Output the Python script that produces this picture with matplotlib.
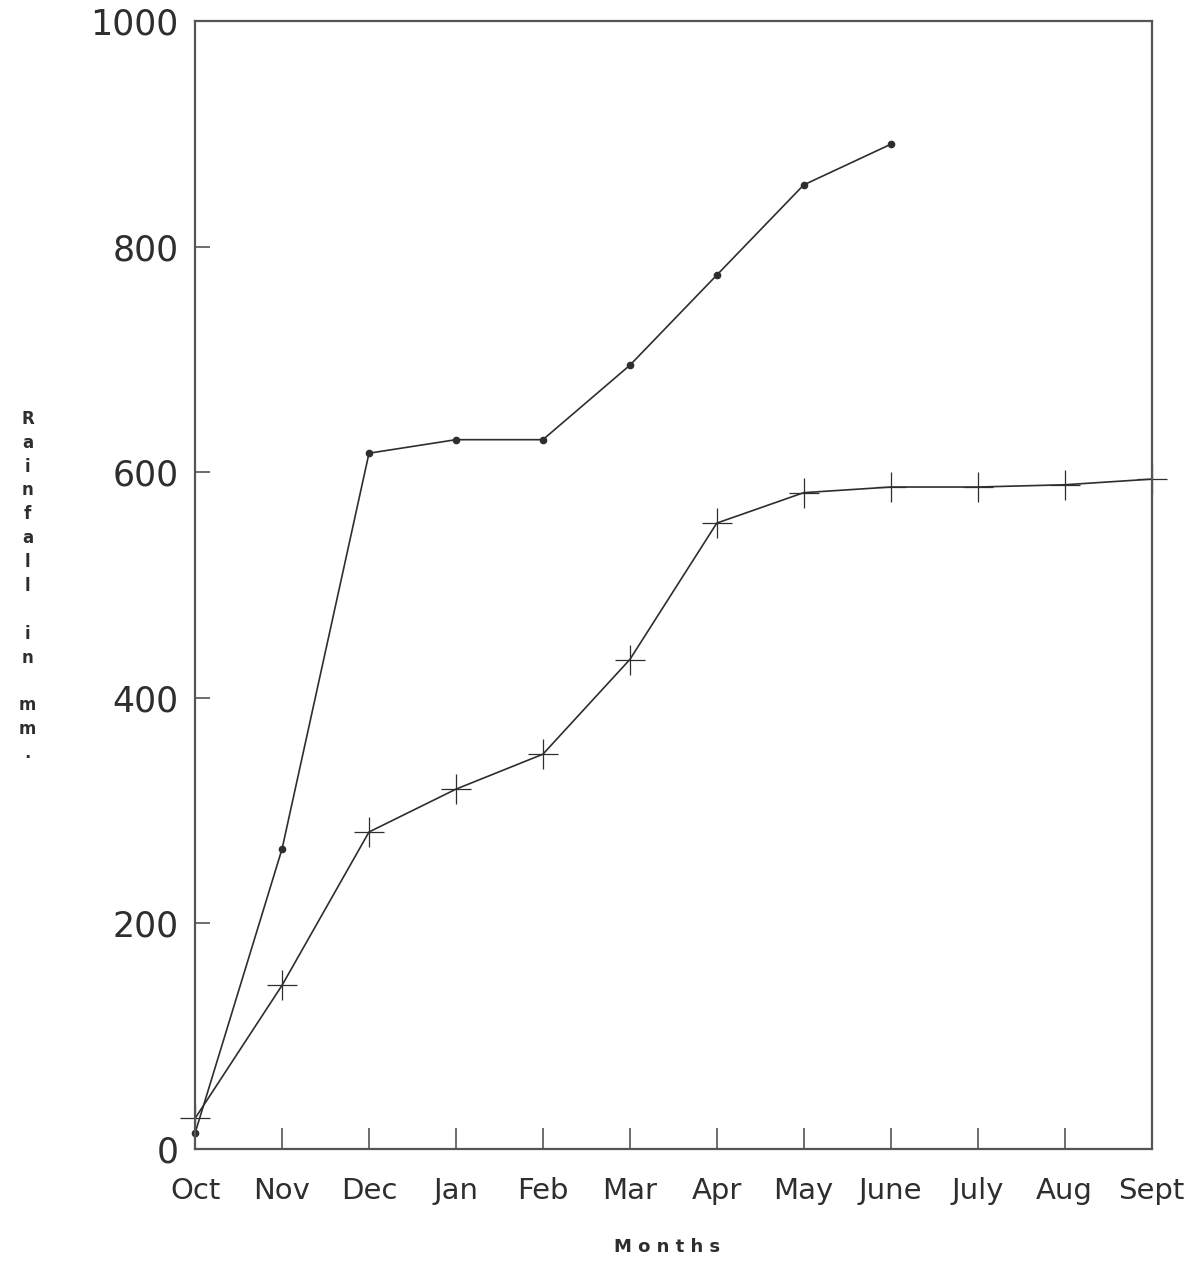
import matplotlib
matplotlib.use("Agg")
import matplotlib.pyplot as plt

# Cumulative monthly rainfall (mm) over a water year
months = ["Oct", "Nov", "Dec", "Jan", "Feb", "Mar", "Apr", "May", "June",
          "July", "Aug", "Sept"]
rain_dots = [14, 266, 617, 629, 629, 695, 775, 855, 891]
rain_cross = [27, 145, 281, 319, 350, 434, 555, 582, 587, 587, 589, 594]
y_ticks = [0, 200, 400, 600, 800, 1000]

ink = "#2e2e2e"
frame = "#555555"

fig = plt.figure(figsize=(11.97, 12.61), dpi=100)
ax = fig.add_axes([0.163, 0.089, 0.799, 0.894])

ax.plot(range(len(rain_dots)), rain_dots, color=ink, lw=1.2,
        marker="o", ms=4.5, mfc=ink, mec=ink, clip_on=False)
ax.plot(range(len(rain_cross)), rain_cross, color=ink, lw=1.2,
        marker="+", ms=22, mew=0.9, clip_on=False)

ax.set_xlim(0, len(months) - 1)
ax.set_ylim(0, 1000)

ax.set_xticks(range(len(months)))
ax.set_xticklabels(months, fontsize=21, color=ink, family="DejaVu Sans")
ax.set_yticks(y_ticks)
ax.set_yticklabels([str(v) for v in y_ticks], fontsize=25, color=ink,
                   family="DejaVu Sans")

ax.tick_params(axis="x", direction="in", length=15, width=1.2, color=frame,
               pad=20)
ax.tick_params(axis="y", direction="in", length=11, width=1.2, color=frame,
               pad=12)

for s in ax.spines.values():
    s.set_color(frame)
    s.set_linewidth(1.6)

# Stacked vertical axis title
fig.text(0.023, 0.675, "\n".join("Rainfall in mm."), ha="center", va="top",
         fontsize=12, fontweight="bold", color=ink, linespacing=1.42,
         family="DejaVu Sans")
fig.text(0.557, 0.004, "M o n t h s", ha="center", va="bottom",
         fontsize=13, fontweight="bold", color=ink, family="DejaVu Sans")

fig.savefig("out.png", dpi=100, facecolor="white")
